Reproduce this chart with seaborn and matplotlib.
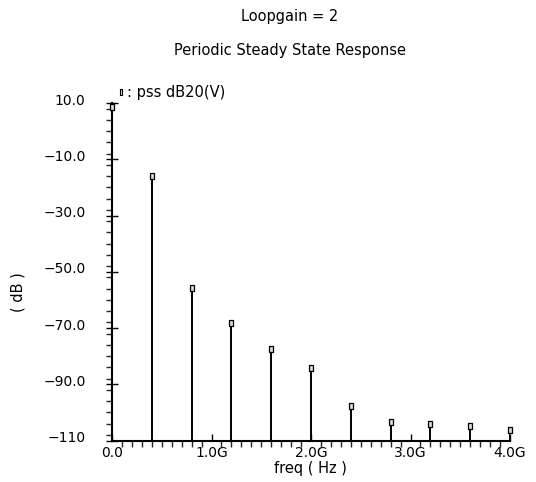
import numpy as np
import pandas as pd
import matplotlib
matplotlib.use("Agg")
import matplotlib.pyplot as plt
import matplotlib.transforms as mtransforms
from matplotlib.ticker import MultipleLocator
import seaborn as sns

# harmonics of the pss response (Hz) and their level (dB20)
freq = [0.0, 0.4e9, 0.8e9, 1.2e9, 1.6e9, 2.0e9, 2.4e9, 2.8e9, 3.2e9, 3.6e9, 4.0e9]
level_db = [8.6, -16.1, -55.8, -68.3, -77.5, -84.3, -97.9, -103.5, -104.2, -105.0, -106.2]

xticks = [0.0, 1e9, 2e9, 3e9, 4e9]
xtick_labels = ["0.0", "1.0G", "2.0G", "3.0G", "4.0G"]
yticks = [10, -10, -30, -50, -70, -90, -110]
ytick_labels = ["10.0", "\u221210.0", "\u221230.0", "\u221250.0", "\u221270.0", "\u221290.0", "\u2212110"]

df = pd.DataFrame({"freq": freq, "dB": level_db})

sns.set_style("ticks")
plt.rcParams["font.family"] = ["DejaVu Sans"]
plt.rcParams["text.color"] = "black"

fig = plt.figure(figsize=(5.36, 4.82), dpi=100)
ax = fig.add_axes([112 / 536, 1 - 440.5 / 482, 398 / 536, 337.4 / 482])

ax.vlines(df["freq"], -110, df["dB"], color="black", lw=1.4, zorder=2)
rect = [(-0.5, -1), (0.5, -1), (0.5, 1), (-0.5, 1), (-0.5, -1)]
sns.scatterplot(data=df, x="freq", y="dB", ax=ax, marker=rect, s=22,
                color="#d8d8d8", edgecolor="black", linewidth=0.9, zorder=3,
                legend=False, clip_on=False)

ax.set_xlim(0, 4e9)
ax.set_ylim(-110, 10)
ax.set_xticks(xticks)
ax.set_xticklabels(xtick_labels)
ax.set_yticks(yticks)
ax.set_yticklabels(ytick_labels)
ax.xaxis.set_minor_locator(MultipleLocator(0.1e9))
ax.yaxis.set_minor_locator(MultipleLocator(4))

ax.tick_params(axis="x", which="major", direction="in", length=5, width=1,
               labelsize=10, pad=4, colors="black")
ax.tick_params(axis="x", which="minor", direction="out", length=4, width=1)
ax.tick_params(axis="y", which="major", direction="inout", length=8, width=1,
               labelsize=10, pad=15, colors="black")
ax.tick_params(axis="y", which="minor", direction="out", length=4, width=1)

shift = mtransforms.ScaledTranslation(0, 4 / 100, fig.dpi_scale_trans)
for lab in ax.get_yticklabels():
    lab.set_transform(lab.get_transform() + shift)

for side in ["top", "right"]:
    ax.spines[side].set_visible(False)
for side in ["left", "bottom"]:
    ax.spines[side].set_color("black")
    ax.spines[side].set_linewidth(1.5)

ax.set_xlabel("")
ax.set_ylabel("")

fig.text(290 / 536, 1 - 16 / 482, "Loopgain = 2", ha="center", va="center", fontsize=10.5)
fig.text(290 / 536, 1 - 50 / 482, "Periodic Steady State Response", ha="center",
         va="center", fontsize=10.5)
fig.text(310 / 536, 1 - 469 / 482, "freq ( Hz )", ha="center", va="center", fontsize=10.5)
fig.text(18 / 536, 1 - 292 / 482, "( dB )", ha="center", va="center", fontsize=10.5,
         rotation=90)

# legend entry in the top-left, Cadence style
ax.scatter([121 / 536], [1 - 92 / 482], transform=fig.transFigure, marker=rect, s=14,
           color="#d8d8d8", edgecolor="black", linewidth=0.8, clip_on=False)
fig.text(127 / 536, 1 - 92 / 482, ": pss dB20(V)", ha="left", va="center", fontsize=10.5)

fig.savefig("out.png", dpi=100)
